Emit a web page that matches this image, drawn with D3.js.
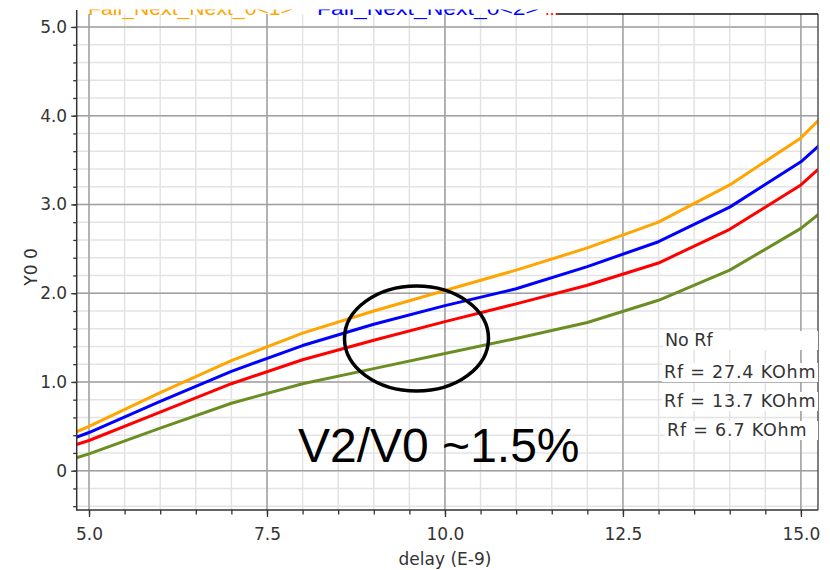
<!DOCTYPE html>
<html>
<head>
<meta charset="utf-8">
<script src="https://cdn.jsdelivr.net/npm/d3@7"></script>
<style>
  html, body { margin: 0; padding: 0; background: #fff; }
  svg { display: block; font-family: "DejaVu Sans", sans-serif; }
</style>
</head>
<body>
<svg id="chart" width="830" height="570"></svg>
<script>
// Sweep points (delay, ns) and the output of each feedback configuration
const delay = [4.8, 5, 6, 7, 8, 9, 10, 11, 12, 13, 14, 15, 15.25];
const noRf   = [0.43, 0.50, 0.88, 1.24, 1.55, 1.80, 2.03, 2.26, 2.51, 2.80, 3.22, 3.75, 3.95];
const rf27k4 = [0.37, 0.43, 0.78, 1.12, 1.41, 1.65, 1.86, 2.05, 2.30, 2.58, 2.97, 3.48, 3.66];
const rf13k7 = [0.29, 0.34, 0.66, 0.98, 1.25, 1.47, 1.68, 1.88, 2.09, 2.34, 2.72, 3.22, 3.40];
const rf6k7  = [0.14, 0.19, 0.48, 0.76, 0.98, 1.15, 1.32, 1.49, 1.67, 1.92, 2.26, 2.73, 2.89];

const seriesNames  = ["No Rf", "Rf = 27.4 KOhm", "Rf = 13.7 KOhm", "Rf = 6.7 KOhm"];
const seriesColors = ["#ffa500", "#0000ff", "#ff0000", "#6b8e23"];
const legendTop    = ["Fall_Next_Next_0<1>", "Fall_Next_Next_0<2>", "..."];

const xTickValues = [5, 7.5, 10, 12.5, 15];
const xTickLabels = ["5.0", "7.5", "10.0", "12.5", "15.0"];
const yTickValues = [0, 1, 2, 3, 4, 5];
const yTickLabels = ["0", "1.0", "2.0", "3.0", "4.0", "5.0"];

const xTitle = "delay (E-9)";
const yTitle = "Y0 0";
const note = "V2/V0 ~1.5%";

const svg = d3.select("#chart");
const L = 76.7, R = 818, T = 14, B = 510;

const x = d3.scaleLinear().domain([4.827, 15.24]).range([L, R]);
const y = d3.scaleLinear().domain([-0.443, 5.146]).range([B, T]);

svg.append("defs").append("clipPath").attr("id", "plotClip")
  .append("rect").attr("x", L).attr("y", T).attr("width", R - L).attr("height", B - T);

// grid: light minor lines, darker major lines
const xMinor = d3.range(5, 15.01, 0.5);
const yMinor = d3.range(-0.4, 5.01, 0.2).map(v => +v.toFixed(1));
const grid = svg.append("g");
grid.selectAll(".xm").data(xMinor).join("line")
  .attr("x1", d => x(d)).attr("x2", d => x(d)).attr("y1", T).attr("y2", B)
  .attr("stroke", "#e3e3e3").attr("stroke-width", 1.5);
grid.selectAll(".ym").data(yMinor).join("line")
  .attr("y1", d => y(d)).attr("y2", d => y(d)).attr("x1", L).attr("x2", R)
  .attr("stroke", "#e3e3e3").attr("stroke-width", 1.5);
grid.selectAll(".xM").data(xTickValues).join("line")
  .attr("x1", d => x(d)).attr("x2", d => x(d)).attr("y1", T).attr("y2", B)
  .attr("stroke", "#a0a0a0").attr("stroke-width", 1.5);
grid.selectAll(".yM").data(yTickValues).join("line")
  .attr("y1", d => y(d)).attr("y2", d => y(d)).attr("x1", L).attr("x2", R)
  .attr("stroke", "#a0a0a0").attr("stroke-width", 1.5);

// curves
const allSeries = [noRf, rf27k4, rf13k7, rf6k7];
const line = d3.line().x((d, i) => x(delay[i])).y(d => y(d));
const curves = svg.append("g").attr("clip-path", "url(#plotClip)");
allSeries.forEach((s, k) => {
  curves.append("path").datum(s).attr("d", line)
    .attr("fill", "none").attr("stroke", seriesColors[k]).attr("stroke-width", 3)
    .attr("stroke-linejoin", "round");
});

// frame
svg.append("line").attr("x1", R).attr("x2", R).attr("y1", T).attr("y2", B)
  .attr("stroke", "#555").attr("stroke-width", 1.5);
svg.append("line").attr("x1", 556).attr("x2", R).attr("y1", T).attr("y2", T)
  .attr("stroke", "#111").attr("stroke-width", 1.5);

// y axis
const yAxis = svg.append("g").attr("transform", `translate(${L},0)`)
  .call(d3.axisLeft(y).tickValues(yMinor).tickSize(3.5).tickFormat(""));
yAxis.select(".domain").remove();
yAxis.selectAll("line").attr("stroke", "#333").attr("stroke-width", 1.3);
const yMajor = svg.append("g").attr("transform", `translate(${L},0)`)
  .call(d3.axisLeft(y).tickValues(yTickValues).tickSize(5.5).tickPadding(4)
    .tickFormat((d, i) => yTickLabels[i]));
yMajor.select(".domain").remove();
yMajor.selectAll("line").attr("stroke", "#333").attr("stroke-width", 1.3);
yMajor.selectAll("text").attr("font-size", 17).attr("fill", "#333")
  .attr("font-family", "DejaVu Sans");
svg.append("line").attr("x1", L).attr("x2", L).attr("y1", 10).attr("y2", B + 0.7)
  .attr("stroke", "#333").attr("stroke-width", 1.5);

// x axis
const xAxis = svg.append("g").attr("transform", `translate(0,${B})`)
  .call(d3.axisBottom(x).tickValues(xMinor).tickSize(4.5).tickFormat(""));
xAxis.select(".domain").remove();
xAxis.selectAll("line").attr("stroke", "#333").attr("stroke-width", 1.3);
const xMajor = svg.append("g").attr("transform", `translate(0,${B})`)
  .call(d3.axisBottom(x).tickValues(xTickValues).tickSize(7).tickPadding(11)
    .tickFormat((d, i) => xTickLabels[i]));
xMajor.select(".domain").remove();
xMajor.selectAll("line").attr("stroke", "#333").attr("stroke-width", 1.3);
xMajor.selectAll("text").attr("font-size", 17).attr("fill", "#333")
  .attr("font-family", "DejaVu Sans");
svg.append("line").attr("x1", L).attr("x2", R).attr("y1", B).attr("y2", B)
  .attr("stroke", "#333").attr("stroke-width", 1.5);

// axis titles
svg.append("text").attr("x", x(10)).attr("y", 565).attr("text-anchor", "middle")
  .attr("font-size", 17).attr("fill", "#333").text(xTitle);
svg.append("text").attr("transform", "translate(37,267) rotate(-90)")
  .attr("text-anchor", "middle").attr("font-size", 17).attr("fill", "#333").text(yTitle);

// series legend inside the plot, right side
const labelBase = [346, 378, 407, 436];
const labelX = [665, 664, 664, 667];
const labelSpacing = [0, 0.8, 0.8, 0.8];
const lg = svg.append("g").attr("clip-path", "url(#plotClip)");
seriesNames.forEach((name, k) => {
  lg.append("rect").attr("x", labelX[k] - 2).attr("y", labelBase[k] - 15)
    .attr("width", R - labelX[k] + 2).attr("height", 19).attr("fill", "#fff");
  lg.append("text").attr("x", labelX[k]).attr("y", labelBase[k])
    .attr("font-size", 17.5).attr("fill", "#333")
    .attr("letter-spacing", labelSpacing[k]).text(name);
});

// header legend, cut off at the top edge
svg.append("defs").append("clipPath").attr("id", "headClip")
  .append("rect").attr("x", 0).attr("y", 9.5).attr("width", 830).attr("height", 10);
const head = svg.append("g").attr("clip-path", "url(#headClip)");
const headX = [88, 317, 545];
const headW = [205, 222, 14];
legendTop.forEach((t, k) => {
  head.append("text").attr("x", headX[k]).attr("y", 14.5)
    .attr("font-size", 18).attr("fill", seriesColors[k])
    .attr("font-family", "Liberation Sans, sans-serif")
    .attr("textLength", headW[k]).attr("lengthAdjust", "spacingAndGlyphs").text(t);
});

// highlighted region and ratio note
svg.append("ellipse").attr("cx", 416.5).attr("cy", 338.5).attr("rx", 72).attr("ry", 52.5)
  .attr("fill", "none").attr("stroke", "#000").attr("stroke-width", 3.5);
svg.append("text").attr("x", 298).attr("y", 462)
  .attr("font-family", "Liberation Sans, Arial, sans-serif")
  .attr("font-size", 48).attr("fill", "#000").text(note);
</script>
</body>
</html>
